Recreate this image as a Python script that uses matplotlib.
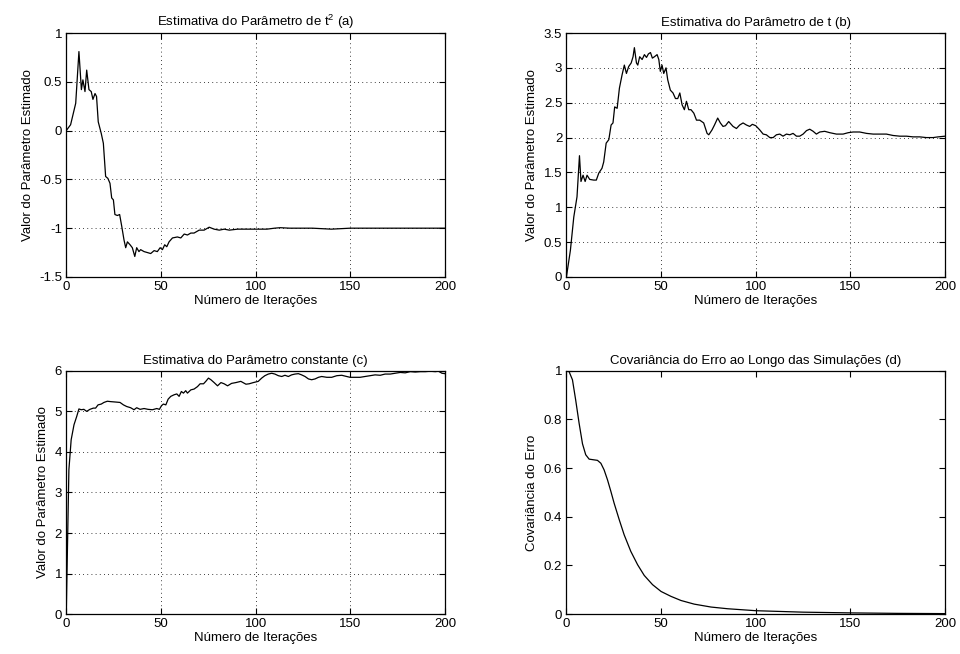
import numpy as np
import matplotlib.pyplot as plt

plt.rcParams['font.family'] = ['Liberation Sans', 'DejaVu Sans']
plt.rcParams['mathtext.default'] = 'regular'
plt.rcParams['axes.unicode_minus'] = False

# (a) estimativa do parametro de t^2
it_a = [0, 2.3, 5, 6.7, 8, 8.8, 9.9, 10.8, 12, 13.2, 14.1, 15.2, 16, 16.9, 18.5, 19.6,
        20.8, 22, 23.1, 24, 24.9, 25.7, 27, 28.2, 29.3, 30.5, 31.4, 32.3, 33.7, 34.9,
        36.2, 37.2, 38.4, 39.3, 41.1, 42.9, 44.6, 46.4, 48.1, 49.6, 50.8, 52, 53.1,
        54.3, 56.1, 58.7, 60.5, 62.3, 64, 65.8, 67.5, 70.2, 72.8, 75.5, 78.1, 80.8,
        83.4, 86.1, 90.5, 95.8, 101, 106, 110, 113, 118, 125, 130, 140, 150, 160,
        170, 180, 190, 200]
val_a = [0, 0.06, 0.28, 0.81, 0.42, 0.52, 0.40, 0.62, 0.42, 0.40, 0.32, 0.38, 0.35,
         0.09, -0.03, -0.13, -0.47, -0.49, -0.54, -0.69, -0.71, -0.86, -0.87, -0.86,
         -0.98, -1.12, -1.20, -1.14, -1.17, -1.20, -1.29, -1.20, -1.24, -1.22, -1.24,
         -1.25, -1.26, -1.23, -1.24, -1.20, -1.22, -1.17, -1.19, -1.14, -1.10, -1.09,
         -1.10, -1.06, -1.07, -1.05, -1.05, -1.02, -1.02, -0.99, -1.01, -1.02, -1.01,
         -1.02, -1.01, -1.01, -1.01, -1.01, -1.0, -0.995, -1.0, -1.0, -1.0, -1.01,
         -1.0, -1.0, -1.0, -1.0, -1.0, -1.0]

# (b) estimativa do parametro de t
it_b = [0, 2.1, 3.9, 5.6, 6.9, 7.7, 8.8, 9.9, 10.9, 12.3, 14.4, 15.8, 17.1, 18.8, 19.7,
        21, 22.4, 23.6, 24.6, 25.5, 26.8, 28, 29.4, 30.6, 31.7, 32.9, 34.2, 35.2, 35.9,
        37, 37.7, 38.7, 40, 41.2, 42.3, 43.3, 44.4, 45.4, 46.5, 47.9, 48.8, 49.6, 50.5,
        51.4, 52.6, 53.5, 54.9, 56.3, 57.6, 58.8, 59.9, 61.1, 62.3, 63.4, 64.6, 65.8,
        67.3, 68.7, 70.4, 72.5, 74.3, 75.2, 76.9, 78.2, 79.9, 81.3, 82.7, 84, 85.7,
        88, 89.8, 91.5, 93.3, 95.1, 96.8, 98.2, 100, 102.1, 103.9, 105.6, 107.4, 109.2,
        110.9, 112.7, 114.4, 116.2, 118, 119.7, 121.5, 123.2, 125, 126.8, 128.5, 130.3,
        132, 133.8, 136.4, 139.1, 142.6, 146.1, 148.8, 151.4, 154.9, 158.5, 162, 165.5,
        169, 172.5, 176.1, 179.6, 183.1, 186.6, 190.1, 193.7, 196.3, 200]
val_b = [0, 0.38, 0.86, 1.15, 1.74, 1.37, 1.46, 1.37, 1.46, 1.40, 1.39, 1.39, 1.49,
         1.56, 1.65, 1.92, 1.97, 2.18, 2.21, 2.44, 2.42, 2.71, 2.90, 3.04, 2.92, 3.02,
         3.07, 3.16, 3.29, 3.07, 3.04, 3.16, 3.12, 3.19, 3.15, 3.20, 3.22, 3.14, 3.16,
         3.19, 3.12, 2.95, 3.04, 2.92, 3.00, 2.83, 2.68, 2.64, 2.56, 2.56, 2.64, 2.47,
         2.40, 2.52, 2.40, 2.40, 2.35, 2.25, 2.25, 2.21, 2.06, 2.04, 2.11, 2.18, 2.28,
         2.21, 2.16, 2.17, 2.23, 2.16, 2.13, 2.18, 2.21, 2.18, 2.16, 2.19, 2.17, 2.11,
         2.05, 2.04, 2.00, 2.00, 2.04, 2.05, 2.02, 2.05, 2.04, 2.06, 2.02, 2.02, 2.05,
         2.10, 2.12, 2.09, 2.05, 2.08, 2.09, 2.07, 2.05, 2.05, 2.07, 2.08, 2.08, 2.06,
         2.05, 2.05, 2.05, 2.03, 2.02, 2.02, 2.01, 2.01, 2.00, 2.00, 2.01, 2.02]

# (c) estimativa do parametro constante
it_c = [0, 1.4, 2.6, 4.1, 5.5, 6.7, 7.9, 9.3, 10.8, 12.5, 14.3, 15.5, 16.8, 18.5, 19.9,
        21.7, 23.5, 26.1, 28.4, 30.2, 31.9, 34, 35.8, 37.2, 39, 41.1, 43.2, 45.5, 47.8,
        49.2, 50.3, 51.3, 52.6, 53.8, 55.2, 57, 58.4, 59.6, 60.8, 61.9, 63.1, 64, 65.8,
        67.5, 69.3, 70.7, 72.5, 73.7, 75.1, 76.4, 78.1, 79.9, 81.7, 83.4, 85.2, 87.3,
        89.6, 92.2, 94.9, 96.6, 98.8, 101.4, 103.2, 104.9, 106.7, 108.5, 110.2, 112,
        113.8, 115.5, 117.3, 119, 120.8, 122.6, 124.3, 126.1, 127.9, 129.6, 131.4,
        133.2, 134.9, 137.6, 140.2, 142.9, 145.5, 148.1, 149.9, 152.6, 155.2, 157.8,
        160.5, 163.1, 165.8, 168.4, 171.1, 173.7, 176.4, 179, 181.7, 184.3, 187, 189.6,
        192.2, 194.9, 196.6, 198.4, 200]
val_c = [0, 3.56, 4.30, 4.67, 4.87, 5.06, 5.04, 5.05, 5.00, 5.05, 5.08, 5.08, 5.16,
         5.18, 5.22, 5.25, 5.24, 5.23, 5.22, 5.16, 5.12, 5.09, 5.04, 5.09, 5.05, 5.07,
         5.05, 5.04, 5.07, 5.05, 5.14, 5.18, 5.16, 5.30, 5.37, 5.41, 5.43, 5.37, 5.49,
         5.45, 5.51, 5.45, 5.53, 5.55, 5.61, 5.68, 5.68, 5.74, 5.82, 5.78, 5.71, 5.63,
         5.71, 5.68, 5.63, 5.69, 5.71, 5.74, 5.67, 5.68, 5.71, 5.74, 5.82, 5.88, 5.92,
         5.94, 5.92, 5.88, 5.86, 5.89, 5.86, 5.90, 5.92, 5.93, 5.90, 5.86, 5.80, 5.78,
         5.80, 5.84, 5.86, 5.84, 5.84, 5.88, 5.89, 5.86, 5.84, 5.84, 5.84, 5.86, 5.88,
         5.90, 5.89, 5.92, 5.92, 5.94, 5.96, 5.95, 5.98, 5.97, 5.98, 5.98, 5.99, 5.98,
         5.99, 5.94, 5.93]

# (d) covariancia do erro
it_d = [0, 1.4, 3.2, 4.9, 6.7, 8.5, 10.2, 12, 14.6, 16.4, 18.2, 19.9, 21.7, 23.5, 25.2,
        27.9, 30.5, 34, 37.6, 41.1, 45.5, 50, 55.2, 60.5, 67.5, 76.4, 85.2, 100, 125,
        150, 175, 200]
val_d = [1.0, 0.997, 0.963, 0.88, 0.785, 0.70, 0.655, 0.637, 0.634, 0.632, 0.62, 0.593,
         0.552, 0.504, 0.456, 0.388, 0.326, 0.258, 0.203, 0.159, 0.121, 0.093, 0.073,
         0.056, 0.041, 0.029, 0.022, 0.014, 0.008, 0.005, 0.003, 0.002]

titulos = ['Estimativa do Parâmetro de t$^{2}$ (a)',
           'Estimativa do Parâmetro de t (b)',
           'Estimativa do Parâmetro constante (c)',
           'Covariância do Erro ao Longo das Simulações (d)']
ylabels = ['Valor do Parâmetro Estimado'] * 3 + ['Covariância do Erro']
ylims = [(-1.5, 1), (0, 3.5), (0, 6), (0, 1)]
yticks = [[-1.5, -1, -0.5, 0, 0.5, 1],
          [0, 0.5, 1, 1.5, 2, 2.5, 3, 3.5],
          [0, 1, 2, 3, 4, 5, 6],
          [0, 0.2, 0.4, 0.6, 0.8, 1]]
ytlabels = [['-1.5', '-1', '-0.5', '0', '0.5', '1'],
            ['0', '0.5', '1', '1.5', '2', '2.5', '3', '3.5'],
            ['0', '1', '2', '3', '4', '5', '6'],
            ['0', '0.2', '0.4', '0.6', '0.8', '1']]
dados = [(it_a, val_a), (it_b, val_b), (it_c, val_c), (it_d, val_d)]

fig = plt.figure(figsize=(9.6, 6.54), dpi=100)
pos = [[0.069, 0.5765, 0.3945, 0.373],
       [0.590, 0.5765, 0.3945, 0.373],
       [0.069, 0.061, 0.3945, 0.372],
       [0.590, 0.061, 0.3945, 0.372]]

for i in range(4):
    ax = fig.add_axes(pos[i])
    x, y = dados[i]
    ax.plot(x, y, color='k', lw=0.9)
    ax.set_xlim(0, 200)
    ax.set_ylim(ylims[i])
    ax.set_xticks([0, 50, 100, 150, 200])
    ax.set_yticks(yticks[i])
    ax.set_yticklabels(ytlabels[i])
    ax.tick_params(direction='in', top=True, right=True, labelsize=9.5,
                   length=4, width=0.8, pad=3)
    for s in ax.spines.values():
        s.set_linewidth(0.9)
    if i < 3:
        ax.grid(True, linestyle=(0, (1, 4)), color='k', lw=0.6)
    ax.set_title(titulos[i], fontsize=9.5, pad=5)
    ax.set_xlabel('Número de Iterações', fontsize=9.5, labelpad=1)
    ax.set_ylabel(ylabels[i], fontsize=9.5, labelpad=4)

fig.savefig('out.png', dpi=100)
